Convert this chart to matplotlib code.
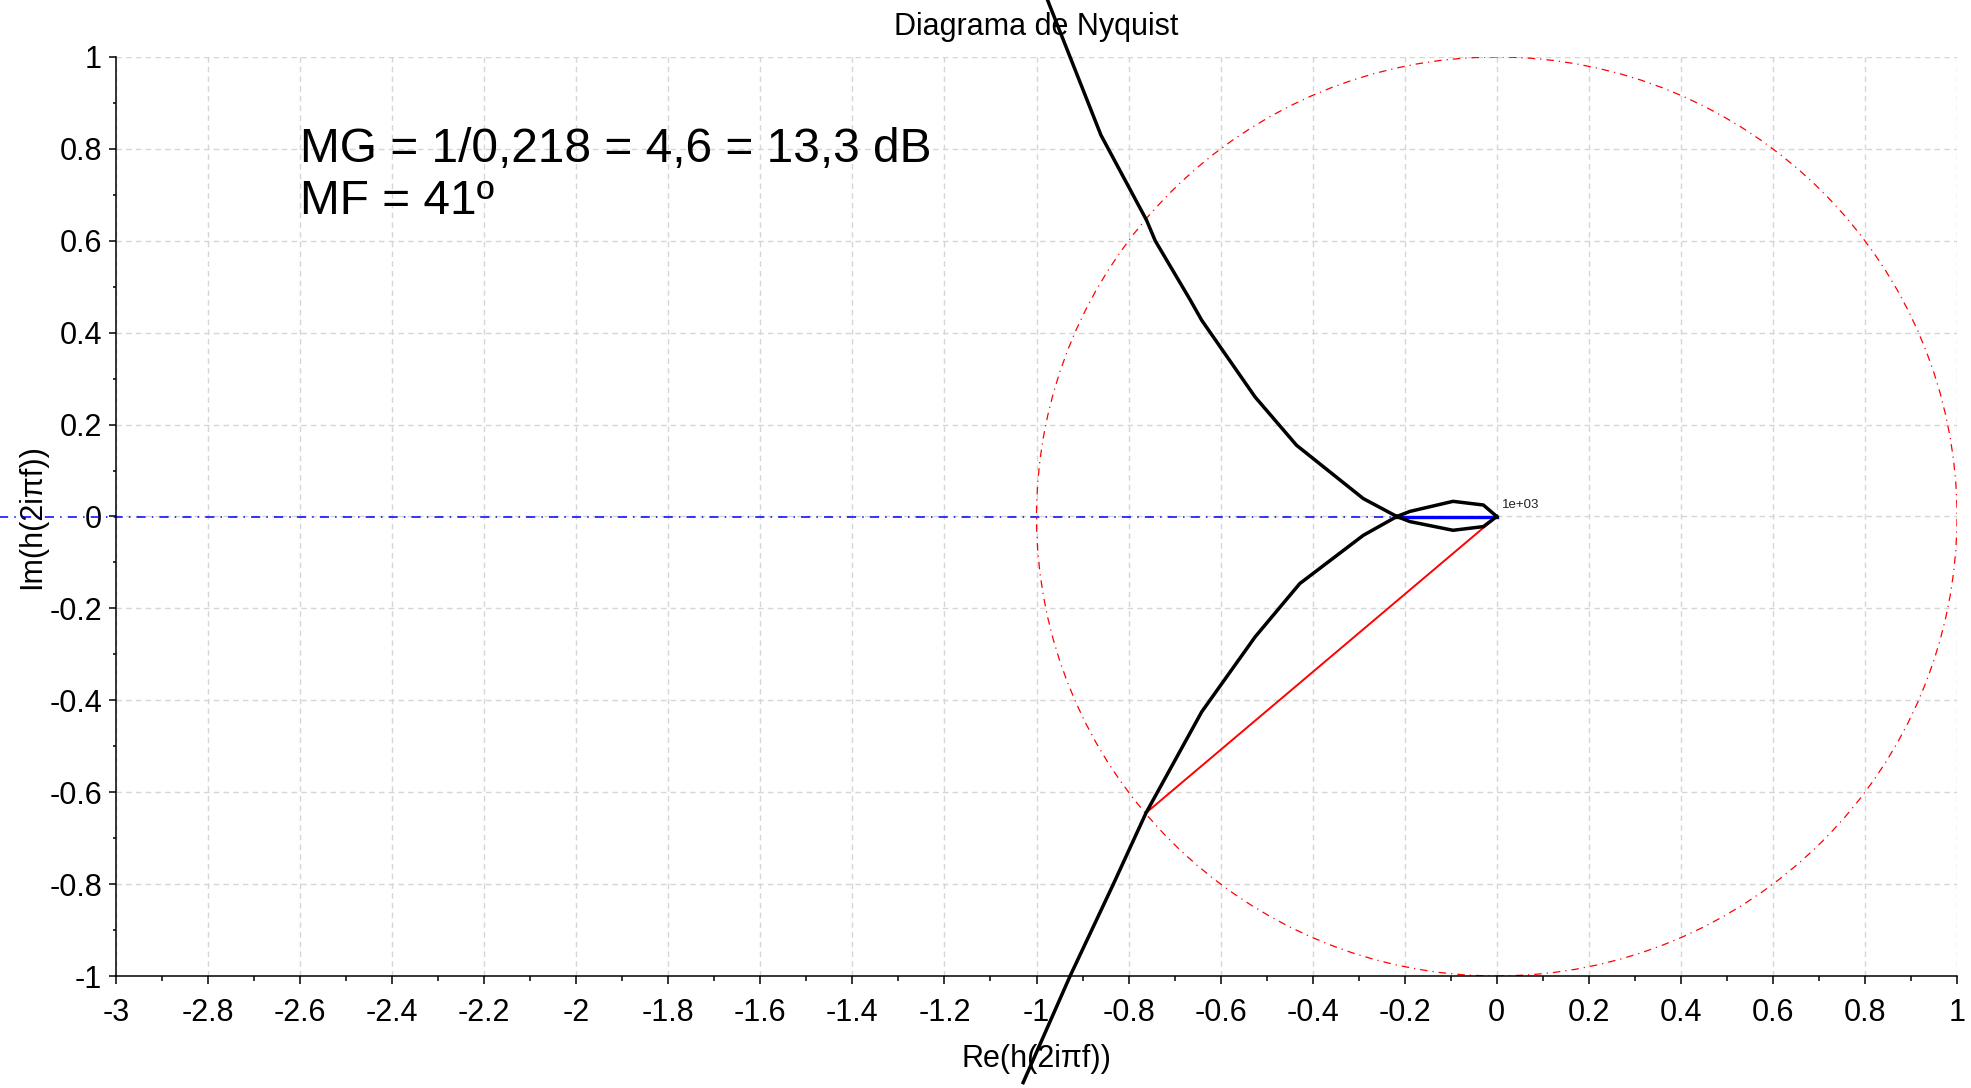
import numpy as np
import matplotlib.pyplot as plt
from matplotlib.patches import Circle
from matplotlib.ticker import MultipleLocator, FuncFormatter

plt.rcParams['font.family'] = ['Liberation Sans', 'DejaVu Sans']
plt.rcParams['axes.unicode_minus'] = False

# Nyquist curve (w < 0 branch on top, w > 0 branch below)
upper_re = [-0.976, -0.860, -0.761, -0.742, -0.667, -0.641, -0.525, -0.435, -0.290, -0.217]
upper_im = [1.124, 0.830, 0.645, 0.600, 0.473, 0.427, 0.260, 0.155, 0.039, 0.0]
lower_re = [-0.217, -0.290, -0.428, -0.525, -0.641, -0.762, -0.833, -0.927, -1.029]
lower_im = [0.0, -0.041, -0.146, -0.262, -0.425, -0.645, -0.800, -1.0, -1.232]

# small loop between the -180 deg crossing and the origin
loop_up_re = [-0.217, -0.189, -0.095, -0.029, 0.0]
loop_up_im = [0.0, 0.011, 0.033, 0.025, 0.0]
loop_dn_re = [-0.217, -0.189, -0.095, -0.029, 0.0]
loop_dn_im = [0.0, -0.011, -0.030, -0.022, 0.0]

# margins
gain_cross = -0.218
phase_pt = (-0.762, -0.645)
axis_left = -3.26

fig = plt.figure(figsize=(19.71, 10.88), dpi=100)
ax = fig.add_axes([116/1971, 1-976/1088, (1957-116)/1971, (976-57)/1088])

ax.set_xlim(-3, 1)
ax.set_ylim(-1, 1)

ax.grid(True, which='major', color='#d6d6d6', ls=(0, (4, 3)), lw=1.0)
ax.set_axisbelow(True)

ax.add_patch(Circle((0, 0), 1, fill=False, ec='red', lw=0.9, ls=(0, (6, 4, 1, 4))))
ax.plot([axis_left, gain_cross], [0, 0], color='blue', lw=1.1, ls=(0, (6, 4, 1, 4)), clip_on=False)
ax.plot([gain_cross, 0], [0, 0], color='blue', lw=2.4)
ax.plot([0, phase_pt[0]], [0, phase_pt[1]], color='red', lw=1.4)

ax.plot(upper_re, upper_im, color='black', lw=2.5, clip_on=False)
ax.plot(lower_re, lower_im, color='black', lw=2.5, clip_on=False)
ax.plot(loop_up_re, loop_up_im, color='black', lw=2.5)
ax.plot(loop_dn_re, loop_dn_im, color='black', lw=2.5)

ax.text(0.011, 0.018, '1e+03', fontsize=9.5, color='#222222')
ax.text(-2.601, 0.771, 'MG = 1/0,218 = 4,6 = 13,3 dB', fontsize=34.5)
ax.text(-2.601, 0.658, 'MF = 41º', fontsize=34.5)

ax.xaxis.set_major_locator(MultipleLocator(0.2))
ax.xaxis.set_minor_locator(MultipleLocator(0.1))
ax.yaxis.set_major_locator(MultipleLocator(0.2))
ax.yaxis.set_minor_locator(MultipleLocator(0.1))
fmt = FuncFormatter(lambda v, p: '{:g}'.format(round(v, 1) + 0.0))
ax.xaxis.set_major_formatter(fmt)
ax.yaxis.set_major_formatter(fmt)

ax.tick_params(axis='x', which='major', direction='out', length=6, width=1.1, pad=10, labelsize=22)
ax.tick_params(axis='x', which='minor', direction='out', length=3.5, width=1.1)
ax.tick_params(axis='y', which='major', direction='out', length=5, width=1.1, pad=5, labelsize=22)
ax.tick_params(axis='y', which='minor', direction='out', length=2.5, width=1.1)

for s in ['top', 'right']:
    ax.spines[s].set_visible(False)
for s in ['left', 'bottom']:
    ax.spines[s].set_linewidth(1.1)

ax.set_title('Diagrama de Nyquist', fontsize=22, pad=15.8)
ax.set_xlabel('Re(h(2iπf))', fontsize=22)
ax.set_ylabel('Im(h(2iπf))', fontsize=22)
ax.xaxis.set_label_coords(0.5, -0.074)
ax.yaxis.set_label_coords(-0.0375, 0.5)

fig.savefig('out.png', dpi=100)
